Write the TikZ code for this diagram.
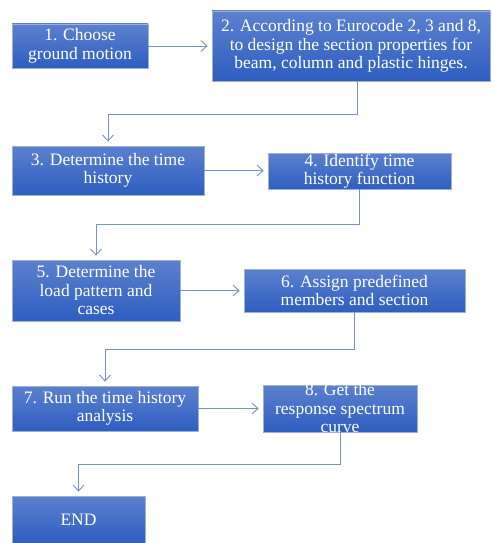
\documentclass[tikz,border=0pt]{standalone}
\usepackage{fontspec}
\setmainfont{Liberation Serif}
\usetikzlibrary{arrows.meta}
\definecolor{boxtop}{RGB}{92,128,206}
\definecolor{boxbot}{RGB}{46,94,192}
\definecolor{boxline}{RGB}{160,176,208}
\definecolor{linkcol}{RGB}{118,146,200}
\begin{document}
\begin{tikzpicture}[
            x=1pt, y=-1pt,
            stepbox/.style={draw=boxline, line width=0.8pt, top color=boxtop, bottom color=boxbot,
                            text=white, align=center, inner sep=0pt,
                            font=\fontsize{17.5}{18.5}\selectfont},
            link/.style={draw=linkcol, line width=0.9pt, shorten >=4pt,
                         -{Straight Barb[length=6pt,width=11pt,line width=0.9pt]}}
          ]
          \useasboundingbox (0,0) rectangle (491,543);

          % Boxes
          \node[stepbox, minimum width=136pt, minimum height=44pt] (choose) at (80,46)
            {1. Choose\\ground motion};
          \node[stepbox, minimum width=278pt, minimum height=70pt] (design) at (351,46)
            {2. According to Eurocode 2, 3 and 8,\\to design the section properties for\\beam, column and plastic hinges.};
          \node[stepbox, minimum width=192pt, minimum height=49pt] (timehist) at (108,170.5)
            {3. Determine the time\\history};
          \node[stepbox, minimum width=183pt, minimum height=36pt, inner ysep=-2pt] (thfunc) at (359.5,171)
            {4. Identify time\\history function};
          \node[stepbox, minimum width=168pt, minimum height=61pt] (loadpat) at (96,290.5)
            {5. Determine the\\load pattern and\\cases};
          \node[stepbox, minimum width=221pt, minimum height=43pt] (members) at (354.5,290.5)
            {6. Assign predefined\\members and section};
          \node[stepbox, minimum width=186pt, minimum height=45pt] (runth) at (105,408.5)
            {7. Run the time history\\analysis};
          % text runs past the box edges, as in the source
          \node[stepbox, minimum width=154pt, minimum height=47pt, inner ysep=-5pt] (spectrum) at (340,408.5)
            {8. Get the\\response spectrum\\curve};
          \node[stepbox, minimum width=133pt, minimum height=47pt] (finish) at (78.5,519.5)
            {END};

          % Connectors
          \draw[link] (choose.east) -- (design.west);
          \draw[link] ([xshift=6pt]design.south) -- ++(0,33) -| (timehist.north);
          \draw[link] (timehist.east) -- (thfunc.west |- timehist.east);
          \draw[link] (thfunc.south) -- ++(0,35) -| (loadpat.north);
          \draw[link] (loadpat.east) -- (members.west);
          \draw[link] (members.south) -- ++(0,37) -| (runth.north);
          \draw[link] (runth.east) -- (spectrum.west);
          \draw[link] (spectrum.south) -- ++(0,32) -| (finish.north);

        \end{tikzpicture}
\end{document}
